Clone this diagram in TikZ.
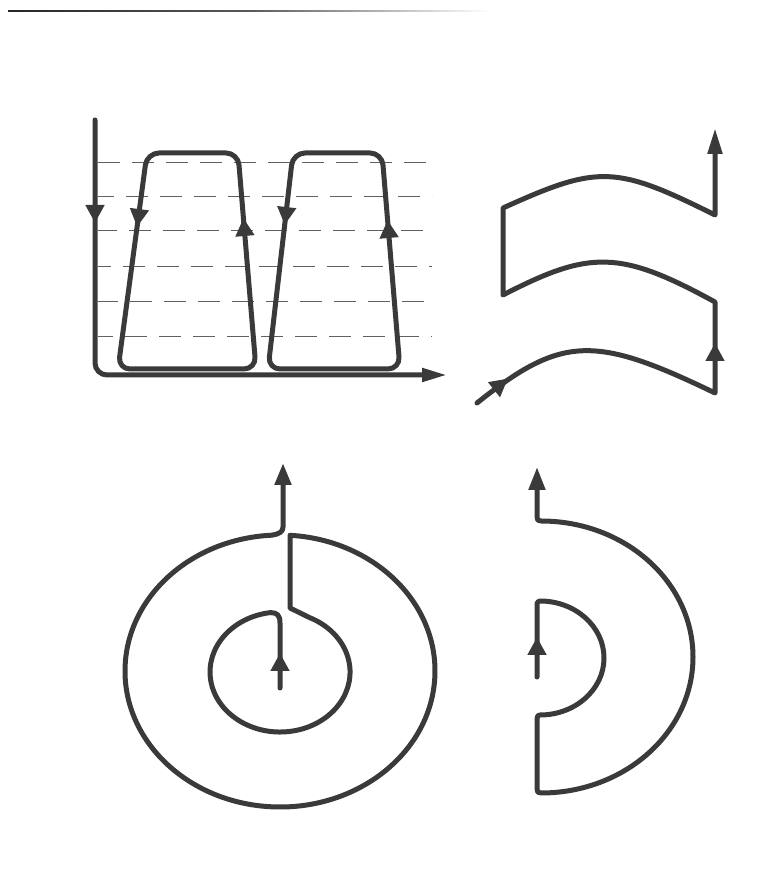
\documentclass[tikz,border=0pt]{standalone}
\usetikzlibrary{arrows.meta}
\definecolor{ink}{HTML}{3A3A3A}
\begin{document}
\begin{tikzpicture}[x=1pt,y=1pt,
  stroke/.style={draw=ink, line width=5pt, line join=round, line cap=round},
  midarr/.style={draw=ink, fill=ink, line width=5pt, -{Triangle[width=18pt,length=18pt]}},
  guide/.style={draw=ink!80, line width=1pt, dash pattern=on 22pt off 12pt},
]
\useasboundingbox (0,0) rectangle (773,895);
% top border line
\shade[left color=black!85, right color=white, middle color=black!65] (8,883.4) rectangle (490,884.8);

% ---------- panel 1 ----------
\foreach \yy/\ph in {732/0,698/6,664/3,628/9,593/2,558/7}
  \draw[guide, dash phase=\ph pt] (98,\yy) -- (432,\yy);
\draw[stroke, rounded corners=12pt, -{Triangle[width=13pt,length=25pt]}]
  (95,775) -- (95,520) -- (447,520);
\draw[stroke, rounded corners=12pt]
  (147,742) -- (238,742) -- (256,526) -- (118,526) -- cycle;
\draw[stroke, rounded corners=12pt]
  (293,742) -- (382,742) -- (400,526) -- (268,526) -- cycle;
\draw[midarr] (95,686) -- (95,672);
\draw[midarr] (138.9,681.9) -- (137.1,668);
\draw[midarr] (244.6,663) -- (243.4,677);
\draw[midarr] (286.3,683.9) -- (284.7,670);
\draw[midarr] (388.8,661) -- (387.6,675);

% ---------- panel 2 ----------
\draw[stroke, -{Triangle[width=14pt,length=26pt]}]
  (477,492) .. controls (562,560) and (595,560) .. (715,502)
  -- (715,593) .. controls (620,645) and (590,645) .. (503,600)
  -- (503,687) .. controls (598,730) and (615,730) .. (715,680)
  -- (715,767);
\draw[midarr] (498,508.5) -- (508,516.5);
\draw[midarr] (715,538) -- (715,552);

% ---------- panel 3 ----------
\draw[stroke, -{Triangle[width=16pt,length=22pt]}]
  (280,207) -- (280,272) .. controls (280,280) and (277,282.4) .. (270.3,282.4)
  arc[start angle=98, end angle=425, x radius=70, y radius=60]
  -- (290,287) -- (290,359.7)
  arc[start angle=86.3, end angle=-267, x radius=155, y radius=136]
  .. controls (279,361) and (283,363) .. (283,368) -- (283,432);
\draw[midarr] (280,228) -- (280,242);

% ---------- panel 4 ----------
\draw[stroke, -{Triangle[width=16pt,length=23pt]}]
  (537,218) -- (537,289) .. controls (537,293) and (538,294) .. (540,294)
  arc[start angle=90, end angle=-90, x radius=64, y radius=57]
  .. controls (538,180) and (537,179) .. (537,176) -- (537,106)
  .. controls (537,103) and (538,102) .. (541,102)
  arc[start angle=-90, end angle=90, x radius=152, y radius=136]
  .. controls (538,374) and (537,375) .. (537,378) -- (537,428);
\draw[midarr] (537,244) -- (537,258);
\end{tikzpicture}
\end{document}
